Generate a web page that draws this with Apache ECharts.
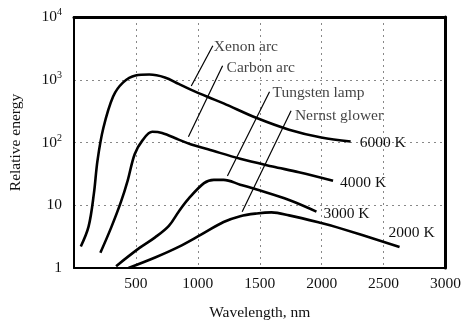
<!DOCTYPE html>
<html><head><meta charset="utf-8">
<script src="https://cdn.jsdelivr.net/npm/echarts@6/dist/echarts.min.js"></script>
<style>html,body{margin:0;padding:0;background:#fff}#c{width:464px;height:326px}</style>
</head><body><div id="c"></div>
<script>
// Wavelength (nm) and relative energy values
const xenonX = [55,118,160,190,237,316,395,497,608,734,845,947,1082,1208,1476,1737,1997,2234];
const xenonY = [2.2,4.6,15,52,170,540,900,1170,1210,1090,860,690,530,420,245,160,120,104];
const carbonX = [213,300,379,434,490,553,632,711,845,947,1082,1342,1603,1816,2092];
const carbonY = [1.75,4.4,11.3,25,65,108,148,142,111,93,78,55,41.5,33.6,24.6];
const tungX = [340,529,655,766,845,924,1050,1129,1208,1342,1476,1737,1958];
const tungY = [1.07,2.09,3.08,4.7,7.9,12.6,22.5,25.4,25.4,21.3,17.8,12.1,7.9];
const nernstX = [440,655,845,1026,1208,1342,1476,1595,1737,1997,2132,2629];
const nernstY = [1.0,1.47,2.17,3.4,5.4,6.7,7.4,7.7,6.9,5.2,4.4,2.17];
const tempLabels = ['6000 K','4000 K','3000 K','2000 K'];
const sourceNames = ['Xenon arc','Carbon arc','Tungsten lamp','Nernst glower'];
const leaderX = [[1121,947],[1200,924],[1579,1239],[1753,1358]];
const leaderY = [[3480,796],[1665,123],[645,29.2],[320,7.9]];
const nameAnchorX = [1129,1232,1603,1784];
const nameAnchorY = [3365,1550,622,267];
const xTicks = [0,500,1000,1500,2000,2500,3000];
const yTicks = [1,10,100,1000,10000];

const FONT = 'Liberation Serif';
const FS = 15.5;
const zip = (a,b) => a.map((v,i)=>[v,b[i]]);
const curves = [[xenonX,xenonY],[carbonX,carbonY],[tungX,tungY],[nernstX,nernstY]];
const endCfg = [
  {distance:9, offset:[0,1]},
  {distance:7, offset:[0,2]},
  {distance:7, offset:[0,2]},
  {distance:5, offset:[-16,-14]}
];
const series = [];
curves.forEach((c,i)=>{
  series.push({
    type:'line', data: zip(c[0],c[1]), smooth:0.35, symbol:'none',
    lineStyle:{color:'#000', width:2.6},
    endLabel:{show:true, formatter: tempLabels[i], fontFamily:FONT, fontSize:FS, color:'#111',
      distance:endCfg[i].distance, offset:endCfg[i].offset}
  });
});
leaderX.forEach((lx,i)=>{
  series.push({type:'line', data: zip(lx, leaderY[i]), symbol:'none', smooth:false,
    lineStyle:{color:'#000', width:1.2}});
});
series.push({
  type:'scatter', symbolSize:0,
  data: nameAnchorX.map((x,i)=>({name:sourceNames[i], value:[x,nameAnchorY[i]]})),
  label:{show:true, position:'right', distance:0, formatter:p=>p.name,
    fontFamily:FONT, fontSize:FS, color:'#111'}
});

const sup = {'1':'1','10':'10','100':'10{s|2}','1000':'10{s|3}','10000':'10{s|4}'};
const chart = echarts.init(document.getElementById('c'), null, {renderer:'canvas'});
chart.setOption({
  animation:false,
  backgroundColor:'#fff',
  grid:{left:70, right:14, top:17, bottom:47},
  xAxis:[{
    type:'value', min:xTicks[0], max:xTicks[xTicks.length-1], interval:500,
    name:'Wavelength, nm', nameLocation:'middle', nameGap:37,
    nameTextStyle:{fontFamily:FONT, fontSize:FS, color:'#111'},
    axisLine:{show:true, lineStyle:{color:'#000', width:2}},
    axisTick:{show:false},
    axisLabel:{showMinLabel:false, margin:8, fontFamily:FONT, fontSize:FS, color:'#111',
      formatter:v=>String(v)},
    splitLine:{show:true, lineStyle:{color:'#888', width:1, type:[2,4]}}
  },{
    type:'value', position:'top', min:0, max:3000,
    axisLine:{show:true, onZero:false, lineStyle:{color:'#000', width:3}},
    axisTick:{show:false}, axisLabel:{show:false}, splitLine:{show:false}
  }],
  yAxis:[{
    type:'log', logBase:10, min:yTicks[0], max:yTicks[yTicks.length-1],
    name:'Relative energy', nameLocation:'middle', nameGap:50,
    nameTextStyle:{fontFamily:FONT, fontSize:FS, color:'#111'},
    axisLine:{show:true, lineStyle:{color:'#000', width:2}},
    axisTick:{show:false},
    axisLabel:{margin:12, fontFamily:FONT, fontSize:FS, color:'#111',
      formatter:v=>sup[String(Math.round(v))] || String(v),
      rich:{s:{fontFamily:FONT, fontSize:10, color:'#111', padding:[0,0,9,0]}}},
    splitLine:{show:true, lineStyle:{color:'#888', width:1, type:[2,4]}}
  },{
    type:'log', logBase:10, position:'right', min:1, max:10000,
    axisLine:{show:true, onZero:false, lineStyle:{color:'#000', width:3}},
    axisTick:{show:false}, axisLabel:{show:false}, splitLine:{show:false}
  }],
  series: series
});
</script></body></html>
